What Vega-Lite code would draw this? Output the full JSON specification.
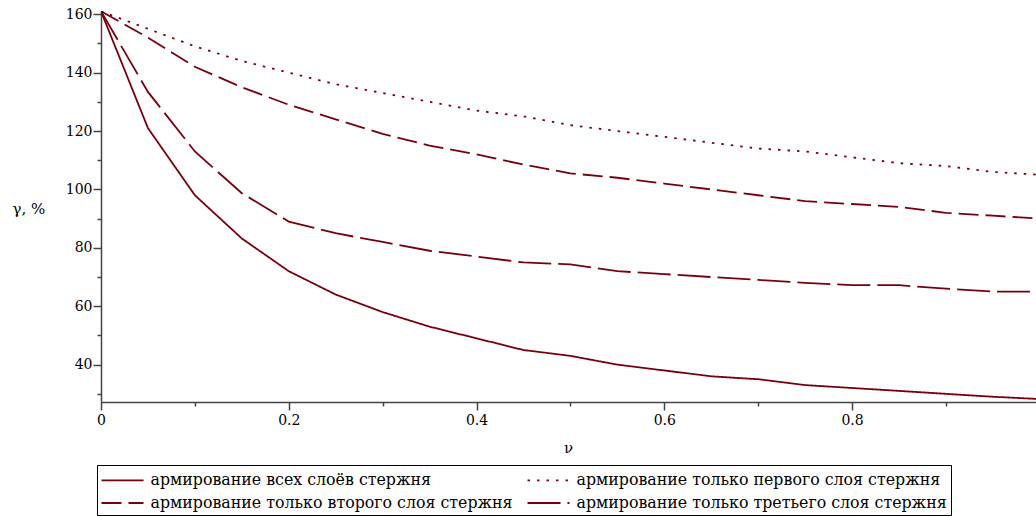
{
  "$schema": "https://vega.github.io/schema/vega-lite/v6.json",
  "width": 935,
  "height": 391,
  "autosize": {"type": "none"},
  "padding": {"left": 101, "top": 11, "right": 0, "bottom": 114},
  "background": "white",
  "config": {
    "view": {"stroke": null},
    "font": "DejaVu Serif",
    "axis": {
      "grid": false,
      "domainColor": "#444444",
      "domainWidth": 1.5,
      "tickColor": "#444444",
      "tickWidth": 1.5,
      "labelFont": "DejaVu Serif",
      "labelFontSize": 14,
      "labelColor": "black",
      "titleFont": "DejaVu Serif",
      "titleFontSize": 15,
      "titleFontWeight": "normal",
      "titleColor": "black"
    },
    "legend": {
      "labelFont": "DejaVu Serif",
      "labelFontSize": 15.8,
      "labelColor": "black",
      "labelLimit": 0
    }
  },
  "data": {
    "values": [
      {"v": 0, "g": 161, "s": "армирование всех слоёв стержня"},
      {"v": 0.05, "g": 121, "s": "армирование всех слоёв стержня"},
      {"v": 0.1, "g": 98, "s": "армирование всех слоёв стержня"},
      {"v": 0.15, "g": 83.2, "s": "армирование всех слоёв стержня"},
      {"v": 0.2, "g": 72, "s": "армирование всех слоёв стержня"},
      {"v": 0.25, "g": 64, "s": "армирование всех слоёв стержня"},
      {"v": 0.3, "g": 58, "s": "армирование всех слоёв стержня"},
      {"v": 0.35, "g": 53, "s": "армирование всех слоёв стержня"},
      {"v": 0.4, "g": 49, "s": "армирование всех слоёв стержня"},
      {"v": 0.45, "g": 45, "s": "армирование всех слоёв стержня"},
      {"v": 0.5, "g": 43, "s": "армирование всех слоёв стержня"},
      {"v": 0.55, "g": 40, "s": "армирование всех слоёв стержня"},
      {"v": 0.6, "g": 38, "s": "армирование всех слоёв стержня"},
      {"v": 0.65, "g": 36, "s": "армирование всех слоёв стержня"},
      {"v": 0.7, "g": 35, "s": "армирование всех слоёв стержня"},
      {"v": 0.75, "g": 33, "s": "армирование всех слоёв стержня"},
      {"v": 0.8, "g": 32, "s": "армирование всех слоёв стержня"},
      {"v": 0.85, "g": 31, "s": "армирование всех слоёв стержня"},
      {"v": 0.9, "g": 30, "s": "армирование всех слоёв стержня"},
      {"v": 0.95, "g": 29, "s": "армирование всех слоёв стержня"},
      {"v": 1.0, "g": 28.2, "s": "армирование всех слоёв стержня"},
      {"v": 0, "g": 161, "s": "армирование только первого слоя стержня"},
      {"v": 0.05, "g": 155, "s": "армирование только первого слоя стержня"},
      {"v": 0.1, "g": 149, "s": "армирование только первого слоя стержня"},
      {"v": 0.15, "g": 144, "s": "армирование только первого слоя стержня"},
      {"v": 0.2, "g": 140, "s": "армирование только первого слоя стержня"},
      {"v": 0.25, "g": 136, "s": "армирование только первого слоя стержня"},
      {"v": 0.3, "g": 133, "s": "армирование только первого слоя стержня"},
      {"v": 0.35, "g": 130, "s": "армирование только первого слоя стержня"},
      {"v": 0.4, "g": 127, "s": "армирование только первого слоя стержня"},
      {"v": 0.45, "g": 125, "s": "армирование только первого слоя стержня"},
      {"v": 0.5, "g": 122, "s": "армирование только первого слоя стержня"},
      {"v": 0.55, "g": 120, "s": "армирование только первого слоя стержня"},
      {"v": 0.6, "g": 118, "s": "армирование только первого слоя стержня"},
      {"v": 0.65, "g": 116, "s": "армирование только первого слоя стержня"},
      {"v": 0.7, "g": 114, "s": "армирование только первого слоя стержня"},
      {"v": 0.75, "g": 113, "s": "армирование только первого слоя стержня"},
      {"v": 0.8, "g": 111, "s": "армирование только первого слоя стержня"},
      {"v": 0.85, "g": 109, "s": "армирование только первого слоя стержня"},
      {"v": 0.9, "g": 108, "s": "армирование только первого слоя стержня"},
      {"v": 0.95, "g": 106, "s": "армирование только первого слоя стержня"},
      {"v": 1.0, "g": 105, "s": "армирование только первого слоя стержня"},
      {"v": 0, "g": 161, "s": "армирование только второго слоя стержня"},
      {"v": 0.05, "g": 152, "s": "армирование только второго слоя стержня"},
      {"v": 0.1, "g": 142, "s": "армирование только второго слоя стержня"},
      {"v": 0.15, "g": 135, "s": "армирование только второго слоя стержня"},
      {"v": 0.2, "g": 129, "s": "армирование только второго слоя стержня"},
      {"v": 0.25, "g": 124, "s": "армирование только второго слоя стержня"},
      {"v": 0.3, "g": 119, "s": "армирование только второго слоя стержня"},
      {"v": 0.35, "g": 115, "s": "армирование только второго слоя стержня"},
      {"v": 0.4, "g": 112, "s": "армирование только второго слоя стержня"},
      {"v": 0.45, "g": 108.5, "s": "армирование только второго слоя стержня"},
      {"v": 0.5, "g": 105.5, "s": "армирование только второго слоя стержня"},
      {"v": 0.55, "g": 104, "s": "армирование только второго слоя стержня"},
      {"v": 0.6, "g": 102, "s": "армирование только второго слоя стержня"},
      {"v": 0.65, "g": 100, "s": "армирование только второго слоя стержня"},
      {"v": 0.7, "g": 98, "s": "армирование только второго слоя стержня"},
      {"v": 0.75, "g": 96, "s": "армирование только второго слоя стержня"},
      {"v": 0.8, "g": 95, "s": "армирование только второго слоя стержня"},
      {"v": 0.85, "g": 94, "s": "армирование только второго слоя стержня"},
      {"v": 0.9, "g": 92, "s": "армирование только второго слоя стержня"},
      {"v": 0.95, "g": 91, "s": "армирование только второго слоя стержня"},
      {"v": 1.0, "g": 90, "s": "армирование только второго слоя стержня"},
      {"v": 0, "g": 161, "s": "армирование только третьего слоя стержня"},
      {"v": 0.05, "g": 133.4, "s": "армирование только третьего слоя стержня"},
      {"v": 0.1, "g": 113, "s": "армирование только третьего слоя стержня"},
      {"v": 0.15, "g": 98.7, "s": "армирование только третьего слоя стержня"},
      {"v": 0.2, "g": 89, "s": "армирование только третьего слоя стержня"},
      {"v": 0.25, "g": 85, "s": "армирование только третьего слоя стержня"},
      {"v": 0.3, "g": 82, "s": "армирование только третьего слоя стержня"},
      {"v": 0.35, "g": 79, "s": "армирование только третьего слоя стержня"},
      {"v": 0.4, "g": 77, "s": "армирование только третьего слоя стержня"},
      {"v": 0.45, "g": 75, "s": "армирование только третьего слоя стержня"},
      {"v": 0.5, "g": 74.3, "s": "армирование только третьего слоя стержня"},
      {"v": 0.55, "g": 72, "s": "армирование только третьего слоя стержня"},
      {"v": 0.6, "g": 71, "s": "армирование только третьего слоя стержня"},
      {"v": 0.65, "g": 70, "s": "армирование только третьего слоя стержня"},
      {"v": 0.7, "g": 69, "s": "армирование только третьего слоя стержня"},
      {"v": 0.75, "g": 68, "s": "армирование только третьего слоя стержня"},
      {"v": 0.8, "g": 67.2, "s": "армирование только третьего слоя стержня"},
      {"v": 0.85, "g": 67.2, "s": "армирование только третьего слоя стержня"},
      {"v": 0.9, "g": 66, "s": "армирование только третьего слоя стержня"},
      {"v": 0.95, "g": 65, "s": "армирование только третьего слоя стержня"},
      {"v": 1.0, "g": 65, "s": "армирование только третьего слоя стержня"}
    ]
  },
  "mark": {"type": "line", "color": "#78000E", "strokeWidth": 1.8, "clip": true},
  "encoding": {
    "x": {
      "field": "v",
      "type": "quantitative",
      "scale": {"domain": [0, 0.996], "nice": false, "zero": false},
      "axis": {
        "title": "ν",
        "values": [0, 0.1, 0.2, 0.3, 0.4, 0.5, 0.6, 0.7, 0.8, 0.9],
        "labelExpr": "round(datum.value*10) % 2 == 0 ? format(datum.value, '~g') : ''",
        "tickSize": {"condition": {"test": "round(datum.value*10) % 2 == 0", "value": 8}, "value": 4},
        "labelPadding": 3,
        "labelFlush": false,
        "titleX": 467,
        "titleY": 50,
        "titleBaseline": "alphabetic",
        "titleAnchor": null
      }
    },
    "y": {
      "field": "g",
      "type": "quantitative",
      "scale": {"domain": [27.2, 161.1], "nice": false, "zero": false},
      "axis": {
        "title": "γ, %",
        "values": [30, 40, 50, 60, 70, 80, 90, 100, 110, 120, 130, 140, 150, 160],
        "labelExpr": "datum.value % 20 == 0 ? datum.label : ''",
        "tickSize": {"condition": {"test": "datum.value % 20 == 0", "value": 8}, "value": 4},
        "labelPadding": 1,
        "labelFlush": false,
        "titleAngle": 0,
        "titleAlign": "left",
        "titleX": -89,
        "titleY": 202,
        "titleBaseline": "alphabetic",
        "titleAnchor": null
      }
    },
    "strokeDash": {
      "field": "s",
      "type": "nominal",
      "scale": {
        "domain": [
          "армирование всех слоёв стержня",
          "армирование только второго слоя стержня",
          "армирование только первого слоя стержня",
          "армирование только третьего слоя стержня"
        ],
        "range": [[1, 0], [20, 7], [2.5, 7], [33, 7]]
      },
      "legend": {
        "title": null,
        "orient": "none",
        "legendX": -4,
        "legendY": 454,
        "columns": 2,
        "columnPadding": 10,
        "rowPadding": 3,
        "padding": 3.5,
        "strokeColor": "black",
        "symbolType": "M-1,0H3",
        "symbolSize": 441,
        "symbolStrokeWidth": 1.8,
        "symbolStrokeColor": "#78000E",
        "symbolFillColor": "transparent",
        "labelOffset": 27
      }
    }
  }
}
